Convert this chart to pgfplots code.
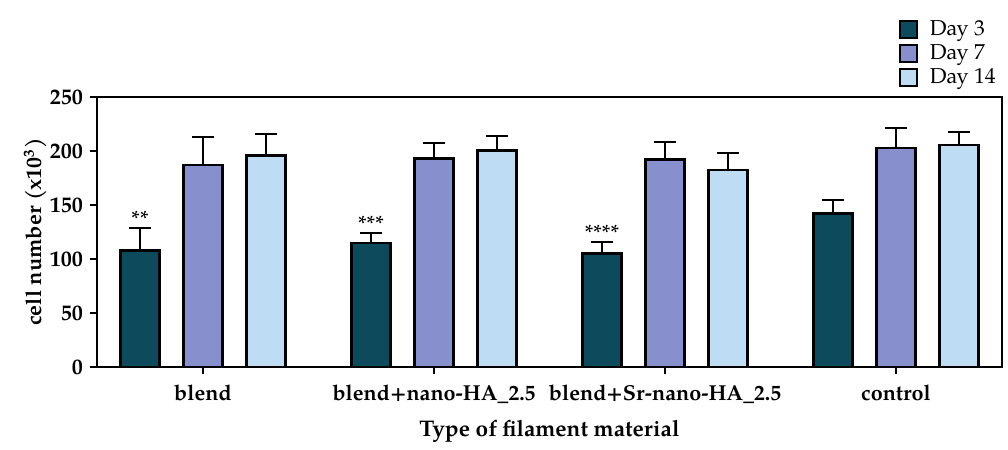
\documentclass[border=0pt]{standalone}
\usepackage{fontspec}
\setmainfont{TeX Gyre Pagella}
\usepackage{pgfplots}
\pgfplotsset{compat=1.18}
\usepackage{pgfplotstable}

\definecolor{day3}{HTML}{0C4A5C}
\definecolor{day7}{HTML}{878FCC}
\definecolor{day14}{HTML}{BEDCF4}

% x, value, plus error (x10^3 cells)
\pgfplotstableread{
x  y     e
0  108   20.5
1  115   9
2  105   11
3  142   13
}\dayA
\pgfplotstableread{
x  y     e
0  187   25.5
1  193   14
2  192   16
3  202.5 19
}\dayB
\pgfplotstableread{
x  y     e
0  196   20
1  200.5 13.5
2  182.5 15.5
3  205.5 12.5
}\dayC

\pgfplotsset{
  errstyle/.style={
    error bars/.cd, y dir=plus, y explicit,
    error bar style={line width=1pt, black},
    error mark options={rotate=90, mark size=5.5pt, line width=1pt, black}
  }
}

\begin{document}
\begin{tikzpicture}
\begin{axis}[
  width=452.5pt, height=135pt, scale only axis,
  ybar, bar width=19.5pt,
  xmin=-0.459, xmax=3.459, ymin=0, ymax=250,
  xtick={0,1,2,3},
  xticklabels={blend, blend+nano-HA\_2.5, blend+Sr-nano-HA\_2.5, control},
  ytick={0,50,100,150,200,250},
  xtick pos=bottom, ytick pos=left, tick align=outside,
  major tick length=3.5pt,
  axis line style={line width=1.2pt},
  every tick/.style={black, line width=1.2pt},
  /pgf/number format/assume math mode=true,
  xticklabel style={font=\fontsize{10.8}{12}\selectfont\bfseries, yshift=-2pt},
  yticklabel style={font=\fontsize{11}{12}\selectfont\bfseries, xshift=0pt},
  ylabel={cell number (x10$^{\mathbf{3}}$)},
  ylabel style={font=\fontsize{10.9}{12}\selectfont\bfseries, at={(axis description cs:-0.068,0.5)}, anchor=center},
  xlabel={Type of filament material},
  xlabel style={font=\fontsize{11.3}{12}\selectfont\bfseries, at={(axis description cs:0.5,-0.24)}, anchor=center},
  legend style={draw=none, fill=none, at={(axis description cs:1,1)}, anchor=south east,
    yshift=2pt, font=\fontsize{10.8}{12}\selectfont, row sep=-1pt, inner sep=1pt},
  legend cell align=left,
  legend image code/.code={\draw[#1, line width=0.8pt] (0pt,-4.25pt) rectangle (8.5pt,4.25pt);
    \path (12.5pt,0pt);},
  clip=false,
]
\addplot[bar shift=-31.5pt, fill=day3, draw=black, line width=1.2pt, errstyle]
  table[x=x, y=y, y error=e] {\dayA};
\addplot[bar shift=0pt, fill=day7, draw=black, line width=1.2pt, errstyle]
  table[x=x, y=y, y error=e] {\dayB};
\addplot[bar shift=31.5pt, fill=day14, draw=black, line width=1.2pt, errstyle]
  table[x=x, y=y, y error=e] {\dayC};
\legend{Day 3, Day 7, Day 14}

\node[anchor=south, inner sep=1pt, xshift=-31.5pt, font=\fontsize{11}{12}\selectfont] at (axis cs:0,127.5) {**};
\node[anchor=south, inner sep=1pt, xshift=-31.5pt, font=\fontsize{11}{12}\selectfont] at (axis cs:1,123) {***};
\node[anchor=south, inner sep=1pt, xshift=-31.5pt, font=\fontsize{11}{12}\selectfont] at (axis cs:2,115) {****};
\end{axis}
\path (current axis.south west) ++(-48.5pt,-39.5pt);
\path (current axis.north east) ++(3pt,48.5pt);
\end{tikzpicture}
\end{document}
